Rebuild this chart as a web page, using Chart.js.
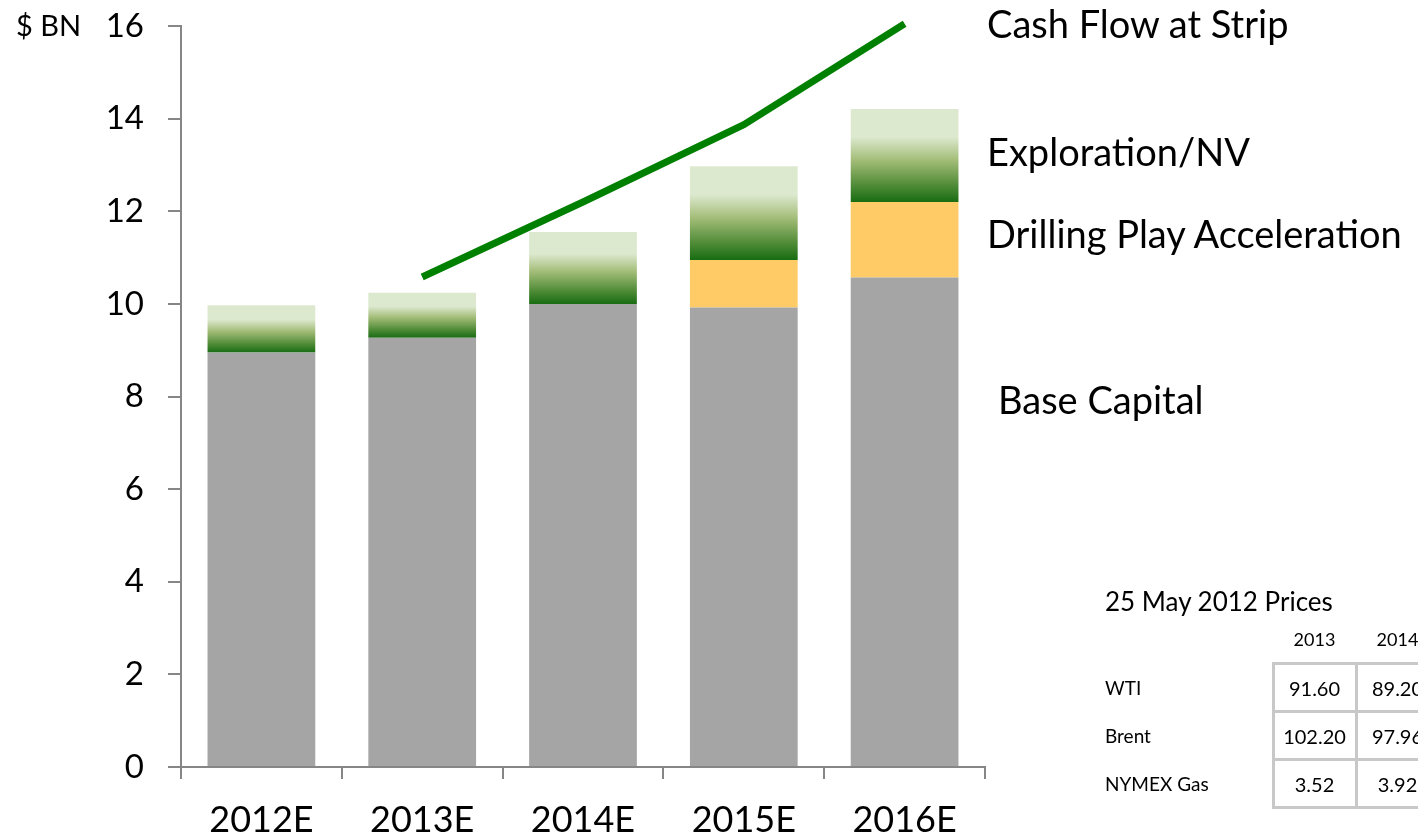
<!DOCTYPE html>
<html lang="en">
  <head>
    <meta charset="UTF-8" />
    <title>Capital vs Cash Flow</title>
    <script src="https://cdn.jsdelivr.net/npm/chart.js@4.4.1/dist/chart.umd.min.js"></script>
    <style>
      html, body { margin: 0; padding: 0; background: #fff; overflow: hidden; }
      body { width: 1418px; height: 840px; position: relative; font-family: Lato, "Open Sans", sans-serif; color: #000; }
      #wrap { position: absolute; left: 0; top: 0; width: 1418px; height: 840px; }
      .lbl { position: absolute; white-space: nowrap; line-height: 1; }
      .serie { font-size: 38px; left: 987px; }
      #unit { left: 16px; top: 10px; font-size: 29px; }
      #prices { position: absolute; left: 1105px; top: 588px; width: 420px; }
      #prices .titulo { font-size: 26px; line-height: 1; }
      #prices table { border-collapse: collapse; margin-top: 12px; table-layout: fixed; width: 334px; }
      #prices th { font-weight: normal; font-size: 18px; height: 36px; line-height: 26px; padding: 0; text-align: center; vertical-align: top; }
      #prices td { font-size: 20px; height: 45px; padding: 0; white-space: nowrap; }
      #prices td.nome { font-size: 19px; }
      #prices td.v { border: 3px solid #c8c8c8; text-align: center; }
      #prices col.nome { width: 168px; }
      #prices col.v { width: 83px; }
    </style>
  </head>
  <body>
    <div id="wrap"><canvas id="grafico" width="1418" height="840"></canvas></div>
    <div class="lbl" id="unit">$ BN</div>
    <div class="lbl serie" style="top: 4px">Cash Flow at Strip</div>
    <div class="lbl serie" style="top: 132px">Exploration/NV</div>
    <div class="lbl serie" style="top: 214px">Drilling Play Acceleration</div>
    <div class="lbl serie" style="top: 380px; left: 998px">Base Capital</div>
    <div id="prices">
      <div class="titulo">25 May 2012 Prices</div>
      <table id="tabela"></table>
    </div>
  </body>
</html>

<script>
  const categorias = ["2012E", "2013E", "2014E", "2015E", "2016E"];
  const baseCapital = [8.95, 9.27, 10.0, 9.92, 10.57];
  const drillingPlay = [0, 0, 0, 1.03, 1.63];
  const exploration = [1.02, 0.97, 1.55, 2.02, 2.01];
  const cashFlow = [null, 10.58, 12.2, 13.87, 16.05];
  const yTicks = [0, 2, 4, 6, 8, 10, 12, 14, 16];

  // tabela de precos
  const anosPreco = ["2013", "2014"];
  const nomesPreco = ["WTI", "Brent", "NYMEX Gas"];
  const precos = [
    ["91.60", "89.20"],
    ["102.20", "97.96"],
    ["3.52", "3.92"],
  ];

  const tabela = document.querySelector("#tabela");
  let html = '<colgroup><col class="nome">';
  for (let i = 0; i < anosPreco.length; i++) html += '<col class="v">';
  html += "</colgroup><tr><th></th>";
  for (let i = 0; i < anosPreco.length; i++) html += `<th>${anosPreco[i]}</th>`;
  html += "</tr>";
  for (let i = 0; i < nomesPreco.length; i++) {
    html += `<tr><td class="nome">${nomesPreco[i]}</td>`;
    for (let j = 0; j < precos[i].length; j++) html += `<td class="v">${precos[i][j]}</td>`;
    html += "</tr>";
  }
  tabela.innerHTML = html;

  const cinza = "#868686";

  function gradienteExpl(context) {
    const chart = context.chart;
    const y = chart.scales.y;
    if (!chart.chartArea || !y) return "#9fbf7a";
    const i = context.dataIndex;
    const baixo = baseCapital[i] + drillingPlay[i];
    const alto = baixo + exploration[i];
    const g = chart.ctx.createLinearGradient(0, y.getPixelForValue(alto), 0, y.getPixelForValue(baixo));
    g.addColorStop(0, "#dde9cf");
    g.addColorStop(0.3, "#dde9cf");
    g.addColorStop(0.55, "#a3bd78");
    g.addColorStop(0.8, "#568f3c");
    g.addColorStop(1, "#186c12");
    return g;
  }

  const ctx = document.getElementById("grafico");

  new Chart(ctx, {
    data: {
      labels: categorias,
      datasets: [
        {
          type: "line",
          label: "Cash Flow at Strip",
          data: cashFlow,
          borderColor: "#008000",
          backgroundColor: "#008000",
          borderWidth: 7,
          pointRadius: 0,
          tension: 0,
          spanGaps: true,
          clip: false,
          stack: "cf",
          order: 0,
        },
        {
          type: "bar",
          label: "Base Capital",
          data: baseCapital,
          backgroundColor: "#a5a5a5",
          stack: "capex",
          order: 1,
        },
        {
          type: "bar",
          label: "Drilling Play Acceleration",
          data: drillingPlay,
          backgroundColor: "#fecb67",
          stack: "capex",
          order: 1,
        },
        {
          type: "bar",
          label: "Exploration/NV",
          data: exploration,
          backgroundColor: gradienteExpl,
          stack: "capex",
          order: 1,
        },
      ],
    },
    options: {
      responsive: false,
      animation: false,
      layout: { padding: { top: 26, right: 433, left: 0, bottom: 0 } },
      plugins: { legend: { display: false }, tooltip: { enabled: false } },
      datasets: { bar: { categoryPercentage: 1, barPercentage: 0.67 } },
      scales: {
        x: {
          stacked: true,
          grid: { offset: true, drawOnChartArea: false, tickLength: 12, color: cinza, lineWidth: 2 },
          border: { color: cinza, width: 2 },
          ticks: { color: "#000", padding: 20, font: { family: "Lato", size: 36 } },
          afterFit: (s) => { s.height = 73; },
        },
        y: {
          stacked: true,
          min: 0,
          max: 16,
          afterBuildTicks: (s) => { s.ticks = yTicks.map((v) => ({ value: v })); },
          grid: { drawOnChartArea: false, tickLength: 13, color: cinza, lineWidth: 2 },
          border: { color: cinza, width: 2 },
          ticks: { color: "#000", padding: 24, font: { family: "Lato", size: 33 } },
          afterFit: (s) => {
            s.width = 181;
            s.paddingTop = 0;
            s.paddingBottom = 0;
          },
        },
      },
    },
  });
</script>
